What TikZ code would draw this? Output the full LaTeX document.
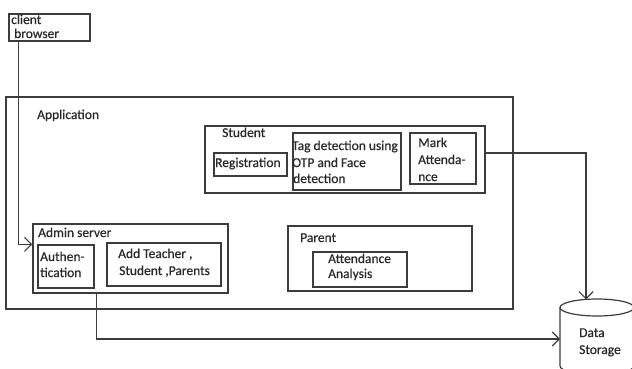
\documentclass[tikz,border=0pt]{standalone}
\usepackage{fontspec}
\setmainfont{Carlito}[AutoFakeBold=0.6]
\usetikzlibrary{arrows.meta,fit}
\definecolor{ln}{HTML}{3C3C3C}
\definecolor{tx}{HTML}{2A2A2A}
\begin{document}
\begin{tikzpicture}[x=1pt,y=-1pt,
  box/.style={draw=ln,line width=1.3pt,inner sep=0pt,rectangle},
  conn/.style={draw=ln,line width=1.2pt,-{Straight Barb[length=7pt,width=14pt]}},
  plain/.style={draw=ln,line width=1.2pt},
  lbl/.style={anchor=base west,inner sep=0pt,text=tx,font=\fontsize{13.5}{16}\selectfont\bfseries}]
\useasboundingbox (0,0) rectangle (632,369);
\clip (0,0) rectangle (632,369);
% boxes
\node[box,fit={(9,14)(90,41)}] (cb) {};
\node[box,fit={(6,97)(513,309)}] (app) {};
\node[box,fit={(205,126)(485,193)}] (student) {};
\node[box,fit={(214,153)(287,176)}] (reg) {};
\node[box,fit={(293,133)(401,190)}] (tag) {};
\node[box,fit={(410,133)(476,184)}] (mark) {};
\node[box,fit={(33,224)(228,293)}] (admin) {};
\node[box,fit={(38,245)(94,288)}] (auth) {};
\node[box,fit={(107,243)(221,286)}] (add) {};
\node[box,fit={(288,226)(472,291)}] (parent) {};
\node[box,fit={(313,252)(407,287)}] (att) {};
% data storage cylinder
\draw[plain] (597,307.5) ellipse [x radius=37,y radius=8.5];
\draw[plain] (560,307.5) -- (560,366) arc[start angle=180,end angle=360,x radius=37,y radius=-8.5] -- (634,307.5);
\coordinate (dstop) at (586,299.5);
\coordinate (dsleft) at (560,339);
% labels
\node[lbl] (t1) at (11,24) {client};
\node[lbl] (t2) at (14,38) {browser};
\node[lbl] (t3) at (37,119) {Application};
\node[lbl] (t4) at (222,137) {Student};
\node[lbl] (t5) at (215,167) {Registration};
\node[lbl] (t6) at (292,150) {Tag detection using};
\node[lbl] (t7) at (292,167) {OTP and Face};
\node[lbl] (t8) at (293,183) {detection};
\node[lbl] (t9) at (418,147) {Mark};
\node[lbl] (t10) at (418,164) {Attenda-};
\node[lbl] (t11) at (418,181) {nce};
\node[lbl] (t12) at (38,237) {Admin server};
\node[lbl] (t13) at (40,261) {Authen-};
\node[lbl] (t14) at (40,277) {tication};
\node[lbl] (t15) at (118,258) {Add Teacher ,};
\node[lbl] (t16) at (119,275) {Student ,Parents};
\node[lbl] (t17) at (300,242) {Parent};
\node[lbl] (t18) at (328,263) {Attendance};
\node[lbl] (t19) at (328,278) {Analysis};
\node[lbl] (t20) at (579,337) {Data};
\node[lbl] (t21) at (579,354) {Storage};
% connectors
\draw[conn] ([xshift=10pt]cb.south west) |- ([yshift=-21pt]admin.north west);
\draw[conn] ([yshift=6.5pt]student.east) -| (dstop);
\draw[conn] ([xshift=64pt]admin.south west) |- (dsleft);
\end{tikzpicture}
\end{document}
